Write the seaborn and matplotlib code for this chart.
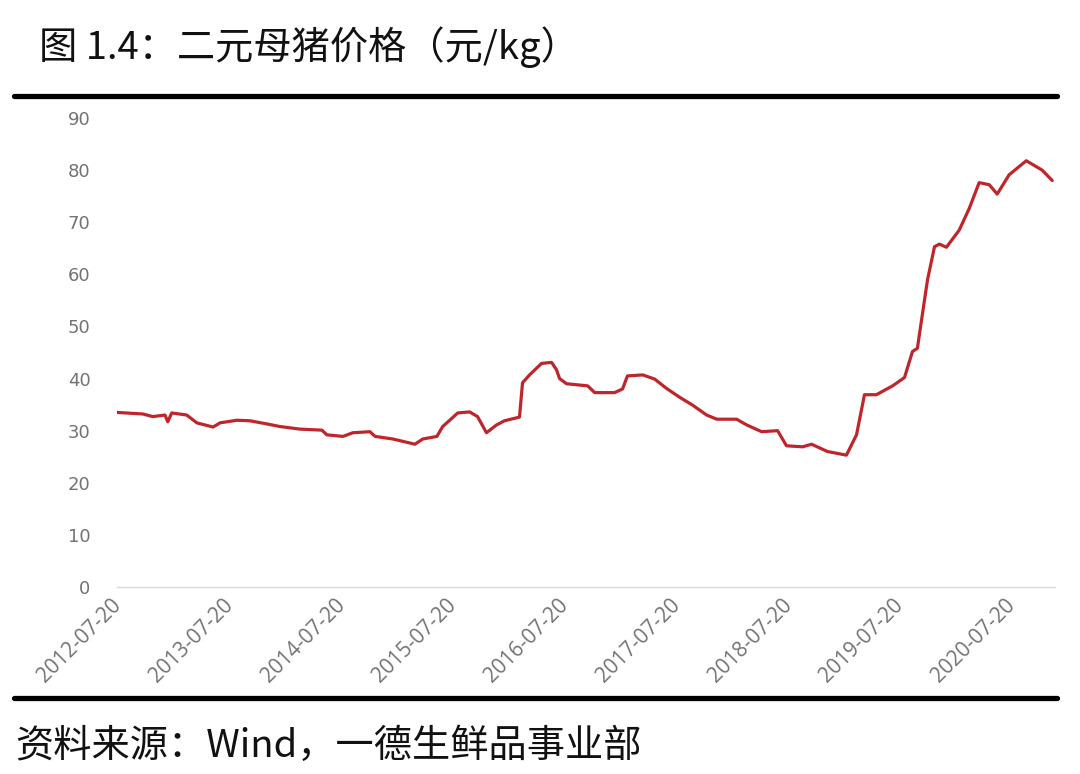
import matplotlib
matplotlib.use("Agg")
import matplotlib.pyplot as plt
import matplotlib.transforms as mtransforms
from matplotlib.lines import Line2D
import seaborn as sns
import pandas as pd

dates = [
    "2012-07-20", "2012-10-13", "2012-11-14", "2012-12-24", "2013-01-02", "2013-01-15",
    "2013-03-05", "2013-04-07", "2013-05-30", "2013-06-22", "2013-08-16", "2013-09-27",
    "2013-11-22", "2014-01-03", "2014-03-10", "2014-05-21", "2014-06-06", "2014-07-29",
    "2014-08-30", "2014-10-25", "2014-11-11", "2015-01-08", "2015-03-21", "2015-04-16",
    "2015-06-01", "2015-06-20", "2015-07-13", "2015-08-08", "2015-09-16", "2015-10-12",
    "2015-11-10", "2015-12-13", "2016-01-08", "2016-02-26", "2016-03-07", "2016-03-30",
    "2016-05-08", "2016-06-10", "2016-06-26", "2016-07-06", "2016-07-29", "2016-10-06",
    "2016-10-29", "2017-01-02", "2017-01-28", "2017-02-13", "2017-04-04", "2017-05-13",
    "2017-06-21", "2017-08-03", "2017-09-14", "2017-10-30", "2017-12-02", "2018-02-05",
    "2018-03-10", "2018-04-28", "2018-06-19", "2018-07-18", "2018-09-09", "2018-10-08",
    "2018-11-29", "2019-01-30", "2019-03-04", "2019-03-30", "2019-05-08", "2019-06-30",
    "2019-08-08", "2019-09-03", "2019-09-19", "2019-10-22", "2019-11-14", "2019-11-30",
    "2019-12-23", "2020-02-03", "2020-03-07", "2020-04-08", "2020-05-11", "2020-06-06",
    "2020-07-15", "2020-09-09", "2020-10-31", "2020-12-03",
]
prices = [
    33.5, 33.2, 32.7, 33.0, 31.7, 33.4,
    33.0, 31.5, 30.7, 31.5, 32.0, 31.9,
    31.3, 30.8, 30.3, 30.1, 29.2, 28.9,
    29.6, 29.8, 28.9, 28.4, 27.4, 28.4,
    28.9, 30.8, 32.0, 33.4, 33.6, 32.7,
    29.6, 31.1, 31.9, 32.6, 39.2, 40.7,
    42.9, 43.1, 41.7, 40.0, 39.0, 38.6,
    37.3, 37.3, 38.0, 40.5, 40.7, 39.9,
    38.1, 36.4, 34.9, 33.0, 32.2, 32.2,
    31.1, 29.8, 30.0, 27.1, 26.9, 27.4,
    26.0, 25.3, 29.2, 36.9, 36.9, 38.6,
    40.2, 45.2, 45.8, 58.9, 65.3, 65.8,
    65.2, 68.5, 72.7, 77.6, 77.2, 75.4,
    79.1, 81.8, 80.0, 78.0,
]
tick_labels = ["2012-07-20", "2013-07-20", "2014-07-20", "2015-07-20", "2016-07-20",
               "2017-07-20", "2018-07-20", "2019-07-20", "2020-07-20"]
y_ticks = [0, 10, 20, 30, 40, 50, 60, 70, 80, 90]

title = "图 1.4：二元母猪价格（元/kg）"
source = "资料来源：Wind，一德生鲜品事业部"

sns.set_style("white")
plt.rcParams["font.family"] = ["Noto Sans CJK SC", "DejaVu Sans"]

df = pd.DataFrame({"date": pd.to_datetime(dates), "price": prices})

fig = plt.figure(figsize=(10.8, 7.74), dpi=100)
ax = fig.add_axes([117 / 1080, 1 - 587 / 774, (1055 - 117) / 1080, (587 - 118) / 774])

sns.lineplot(data=df, x="date", y="price", ax=ax, color="#BE262B", linewidth=2.3)

ax.set_ylim(0, 90)
ax.set_yticks(y_ticks)
ax.set_xlim(pd.Timestamp("2012-07-20"), pd.Timestamp("2020-12-12"))
ax.set_xticks(pd.to_datetime(tick_labels))
ax.set_xticklabels(tick_labels, rotation=45, ha="right", va="top", rotation_mode="anchor")
ax.set_xlabel("")
ax.set_ylabel("")

for s in ["top", "right", "left"]:
    ax.spines[s].set_visible(False)
ax.spines["bottom"].set_color("#d9d9d9")
ax.spines["bottom"].set_linewidth(1.0)

ax.tick_params(axis="y", length=0, pad=19, labelsize=13, labelcolor="#737373")
ax.tick_params(axis="x", length=4, width=0.8, color="#d9d9d9", direction="out",
               pad=3, labelsize=15, labelcolor="#737373")
for lab in ax.get_yticklabels():
    lab.set_family(["DejaVu Sans"])
offset = mtransforms.ScaledTranslation(-6 / 100, 2 / 100, fig.dpi_scale_trans)
for lab in ax.get_xticklabels():
    lab.set_family(["Open Sans", "DejaVu Sans"])
    lab.set_transform(lab.get_transform() + offset)

fig.text(39 / 1080, 1 - 47 / 774, title, fontsize=27.5, color="#111111",
         ha="left", va="center")
fig.text(15 / 1080, 1 - 746 / 774, source, fontsize=27.5, color="#111111",
         ha="left", va="center")

fig.add_artist(Line2D([14 / 1080, 1057 / 1080], [1 - 96 / 774, 1 - 96 / 774],
                      color="black", linewidth=3.8, transform=fig.transFigure))
fig.add_artist(Line2D([14 / 1080, 1057 / 1080], [1 - 698 / 774, 1 - 698 / 774],
                      color="black", linewidth=3.8, transform=fig.transFigure))

fig.savefig("out.png", dpi=100)
